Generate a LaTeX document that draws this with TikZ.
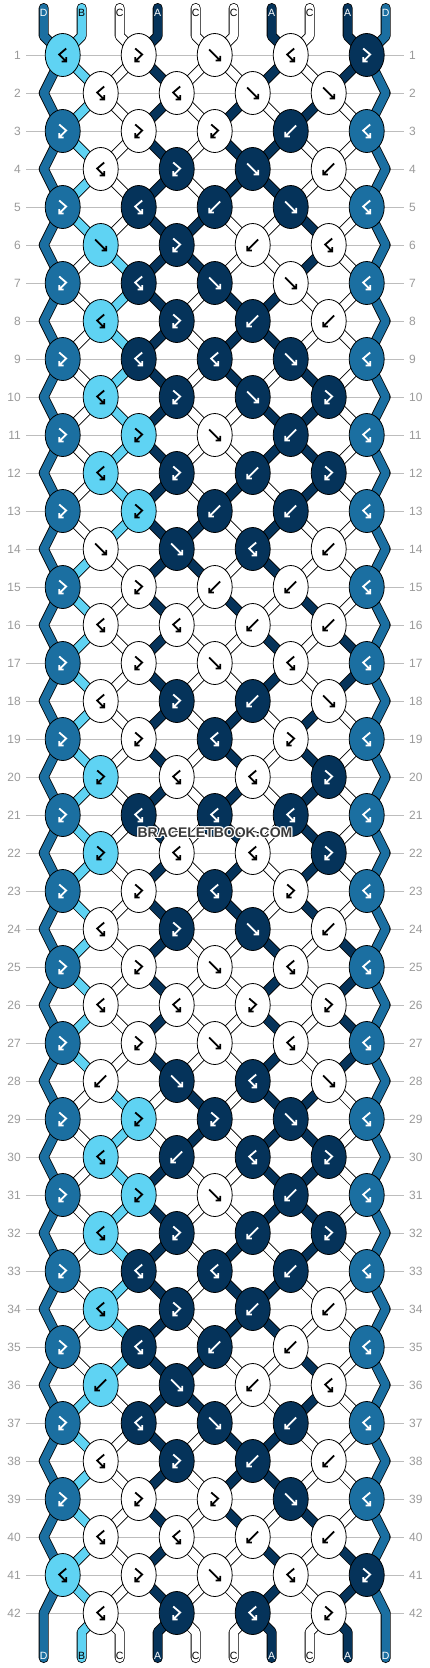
\documentclass[tikz,border=0pt]{standalone}
\usepackage{fontspec}
\setmainfont{Liberation Sans}
\usetikzlibrary{shapes.geometric}
\definecolor{cM}{HTML}{1B6FA1}
\definecolor{cL}{HTML}{5FD3F3}
\definecolor{cW}{HTML}{FFFFFF}
\definecolor{cN}{HTML}{05335A}
\definecolor{numgray}{HTML}{9A9A9A}
\definecolor{linegray}{HTML}{BDBDBD}
\definecolor{wmark}{HTML}{3A3A3A}

\def\setat#1#2{\expandafter\xdef\csname posat#1\endcsname{#2}}
\def\getat#1{\csname posat#1\endcsname}
\def\defstr#1#2#3{\expandafter\gdef\csname scol#1\endcsname{#2}\expandafter\gdef\csname slab#1\endcsname{#3}}
\defstr{0}{cM}{D}
\defstr{1}{cL}{B}
\defstr{2}{cW}{C}
\defstr{3}{cN}{A}
\defstr{4}{cW}{C}
\defstr{5}{cW}{C}
\defstr{6}{cN}{A}
\defstr{7}{cW}{C}
\defstr{8}{cN}{A}
\defstr{9}{cM}{D}
\def\arrcM{white}\def\arrcN{white}\def\arrcL{black}\def\arrcW{black}
\def\txtcM{white}\def\txtcN{white}\def\txtcL{black}\def\txtcW{black}

\tikzset{
  strand/.style={line width=0.8pt, double distance=8.4pt, line cap=round, line join=round, draw=black},
  knotnode/.style={ellipse, draw=black, line width=0.8pt, minimum width=35pt, minimum height=43pt, inner sep=0pt},
  sym/.style={line width=1.8pt, line join=miter, line cap=butt},
  numlab/.style={font=\fontsize{12}{12}\selectfont, text=numgray, inner sep=0pt},
  endlab/.style={font=\fontsize{10.5}{11}\selectfont, inner sep=0pt},
  rowline/.style={draw=linegray, line width=0.8pt},
  wmstyle/.style={font=\bfseries\fontsize{14}{14}\selectfont, inner sep=0pt},
}
\def\symF#1{\draw[sym,draw=#1] (-5.5,-5.5) -- (5.5,5.5) (0.8,5.5) -- (5.5,5.5) -- (5.5,0.8);}
\def\symB#1{\draw[sym,draw=#1] (5.5,-5.5) -- (-5.5,5.5) (-0.8,5.5) -- (-5.5,5.5) -- (-5.5,0.8);}
\def\symZ#1{\draw[sym,draw=#1] (-3.5,-6.5) -- (3.5,-0.5) -- (-3.5,6.5) (1,6.5) -- (-3.5,6.5) -- (-3.5,2);}
\def\symS#1{\draw[sym,draw=#1] (3.5,-6.5) -- (-3.5,-0.5) -- (3.5,6.5) (-1,6.5) -- (3.5,6.5) -- (3.5,2);}
\newcommand\drawknot[5]{%
  \edef\ac{\csname arr#4\endcsname}%
  \node[knotnode, fill=#4] (#1) at (#2,#3) {};
  \begin{scope}[shift={(#2,#3)}]\csname sym#5\endcsname{\ac}\end{scope}}

\begin{document}
\begin{tikzpicture}[x=1pt,y=-1pt]
\useasboundingbox (0,0) rectangle (430,1668);
\fill[white] (0,0) rectangle (430,1668);
% ---- initial positions
\foreach \pp in {0,...,9}{%
  \setat{\pp}{\pp}%
  \pgfmathsetmacro\xx{43.7+38*\pp}%
  \expandafter\xdef\csname spath\pp\endcsname{(\xx,8) -- (\xx,36)}%
}
\gdef\knotlist{}
% ---- simulation of the knots
\foreach \rw/\ty in {1/{S,Z,F,S,Z},2/{S,S,F,F},3/{Z,Z,Z,B,S},4/{S,Z,F,B},5/{Z,S,B,F,S},6/{F,Z,B,S},7/{Z,S,F,F,S},8/{S,Z,B,B},9/{Z,S,S,F,S},10/{S,Z,F,Z},11/{Z,Z,F,B,S},12/{S,Z,B,Z},13/{Z,Z,B,B,S},14/{F,F,S,B},15/{Z,Z,B,B,S},16/{S,S,B,B},17/{Z,Z,F,S,S},18/{S,Z,B,F},19/{Z,Z,S,Z,S},20/{Z,S,S,Z},21/{Z,S,S,S,S},22/{Z,S,S,Z},23/{Z,Z,S,Z,S},24/{S,Z,F,B},25/{Z,Z,F,S,S},26/{S,S,Z,Z},27/{Z,Z,F,S,S},28/{B,F,S,F},29/{Z,Z,Z,F,S},30/{S,B,S,Z},31/{Z,Z,F,B,S},32/{S,Z,B,Z},33/{Z,S,S,B,S},34/{S,Z,B,B},35/{Z,S,B,B,S},36/{B,F,B,S},37/{Z,S,F,B,S},38/{S,Z,B,B},39/{Z,Z,Z,F,S},40/{S,S,B,B},41/{S,Z,F,S,Z},42/{S,Z,S,Z}}{%
  \pgfmathsetmacro\yy{55+38*(\rw-1)}%
  \pgfmathtruncatemacro\isodd{mod(\rw,2)}%
  \foreach \pp in {0,...,9}{%
    \ifnum\isodd=1
      \pgfmathsetmacro\xx{62.7+76*floor(\pp/2)}%
    \else
      \ifnum\pp=0 \def\xx{43.7}\else
        \ifnum\pp=9 \def\xx{385.7}\else
          \pgfmathsetmacro\xx{100.7+76*floor((\pp-1)/2)}%
        \fi
      \fi
    \fi
    \edef\sid{\getat{\pp}}%
    \expandafter\xdef\csname spath\sid\endcsname{\csname spath\sid\endcsname\space -- (\xx,\yy)}%
  }%
  \foreach \ktype [count=\kn from 0] in \ty {%
    \ifnum\isodd=1
      \pgfmathtruncatemacro\lp{2*\kn}\pgfmathsetmacro\xx{62.7+76*\kn}%
    \else
      \pgfmathtruncatemacro\lp{2*\kn+1}\pgfmathsetmacro\xx{100.7+76*\kn}%
    \fi
    \pgfmathtruncatemacro\rp{\lp+1}%
    \edef\sleft{\getat{\lp}}\edef\sright{\getat{\rp}}%
    \if\ktype F\edef\kc{\csname scol\sleft\endcsname}\setat{\lp}{\sright}\setat{\rp}{\sleft}\fi
    \if\ktype B\edef\kc{\csname scol\sright\endcsname}\setat{\lp}{\sright}\setat{\rp}{\sleft}\fi
    \if\ktype Z\edef\kc{\csname scol\sleft\endcsname}\fi
    \if\ktype S\edef\kc{\csname scol\sright\endcsname}\fi
    \xdef\knotlist{\unexpanded\expandafter{\knotlist}\noexpand\drawknot{k\rw-\kn}{\xx}{\yy}{\kc}{\ktype}}%
  }%
}
% ---- bottom ends
\foreach \pp in {0,...,9}{%
  \edef\sid{\getat{\pp}}%
  \pgfmathsetmacro\xx{43.7+38*\pp}%
  \expandafter\xdef\csname spath\sid\endcsname{\csname spath\sid\endcsname\space -- (\xx,1632) -- (\xx,1658)}%
}
% ---- row lines and numbers
\foreach \rw in {1,...,42}{%
  \pgfmathsetmacro\yy{55+38*(\rw-1)}%
  \draw[rowline] (26,\yy) -- (404,\yy);
  \node[numlab, anchor=east] (ln\rw) at (21,\yy) {\rw};
  \node[numlab, anchor=west] (rn\rw) at (409,\yy) {\rw};
}
% ---- strands
\foreach \sid in {0,...,9}{%
  \edef\scolr{\csname scol\sid\endcsname}%
  \expandafter\let\expandafter\thepathspec\csname spath\sid\endcsname
  \draw[strand, double=\scolr] \thepathspec;
}
% ---- knots
\knotlist
% ---- end labels
\foreach \pp in {0,...,9}{%
  \pgfmathsetmacro\xx{43.7+38*\pp}%
  \edef\scolr{\csname scol\pp\endcsname}%
  \edef\tcol{\csname txt\scolr\endcsname}%
  \node[endlab, text=\tcol] (top\pp) at (\xx,13) {\csname slab\pp\endcsname};
  \edef\sid{\getat{\pp}}%
  \edef\scolr{\csname scol\sid\endcsname}%
  \edef\tcol{\csname txt\scolr\endcsname}%
  \node[endlab, text=\tcol] (bot\pp) at (\xx,1656) {\csname slab\sid\endcsname};
}
% ---- watermark
\foreach \dx/\dy [count=\hi] in {-1/-1,-1/0,-1/1,0/-1,0/1,1/-1,1/0,1/1}{%
  \node[wmstyle, text=white] (wmh\hi) at (215+\dx,833+\dy) {BRACELETBOOK.COM};
}
\node[wmstyle, text=wmark] (wm) at (215,833) {BRACELETBOOK.COM};
\end{tikzpicture}
\end{document}
